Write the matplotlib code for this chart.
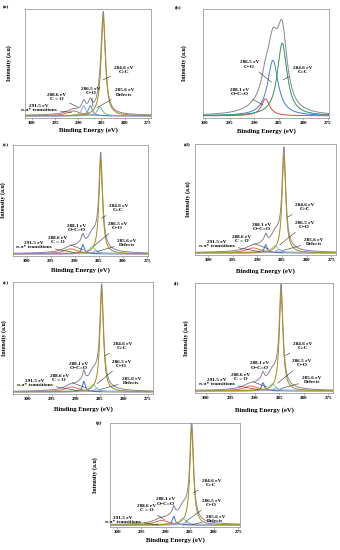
import numpy as np
import matplotlib.pyplot as plt

plt.rcParams['font.family'] = ['Liberation Serif', 'DejaVu Serif']
plt.rcParams['font.weight'] = 'bold'

# ---- data: fitted C1s components for each panel (eV, relative height, FWHM) ----
panel_names = ['(a)', '(b)', '(c)', '(d)', '(e)', '(f)', '(g)']

comp_names = ['C=C', 'Defects', 'C-O', 'O-C=O', 'C=O', 'pi', 'base']

# panel (a)
centers_a = [284.6, 285.3, 287.4, 288.8, 291.0]
heights_a = [0.92, 0.085, 0.095, 0.095, 0.045]
widths_a = [1.1, 1.3, 1.0, 1.1, 3.5]
colors_a = ['#d2a52c', '#63c48f', '#4f86d8', '#8aa6e6', '#e06a5c']

# panel (b)
centers_b = [284.3, 286.2, 287.7]
heights_b = [0.68, 0.52, 0.16]
widths_b = [2.4, 2.6, 2.0]
colors_b = ['#43b06e', '#3f7fe0', '#e2483e']
extra_b = (288.0, 0.08, 6.0)

# panels (c)-(g): same components, different heights
centers_cg = [284.6, 285.6, 286.4, 288.3, 289.0, 290.8, 287.0]
widths_cg = [0.9, 1.2, 1.6, 0.7, 1.5, 3.5, 20.0]
colors_cg = ['#d2a52c', '#9aa8e8', '#86d6a0', '#3d6fd6', '#f0a060', '#e06a6a', '#44c4cc']
heights_c = [0.86, 0.03, 0.065, 0.085, 0.025, 0.045, 0.008]
heights_d = [0.90, 0.03, 0.065, 0.075, 0.025, 0.045, 0.008]
heights_e = [0.91, 0.03, 0.065, 0.095, 0.025, 0.045, 0.008]
heights_f = [0.92, 0.03, 0.065, 0.075, 0.025, 0.045, 0.008]
heights_g = [0.95, 0.03, 0.065, 0.085, 0.025, 0.045, 0.008]
extra_cg = (286.5, 0.08, 4.0)

x_ticks = [300, 295, 290, 285, 280, 275]

# ---- layout (pixels: left, top, right, bottom) ----
W, H = 340, 550
boxes = [(25, 9, 151, 118), (203, 9, 329, 118), (13, 145, 148, 256),
         (195, 144, 336, 255), (13, 282, 153, 394), (195, 283, 333, 393),
         (110, 423, 240, 527)]
xlims = [(301.5, 274.3), (300.4, 274.8), (302.8, 274.8), (302.7, 274.0),
         (303.1, 273.9), (302.2, 274.0), (301.5, 274.6)]
tag_pos = [(3, 5), (175, 5), (3, 143), (184, 142), (3, 281), (174, 281), (96, 421)]
ylab_x = [12, 187, 6, 191, 7, 189, 98]
xlab_y = [127, 128, 267, 268, 406, 407, 537]

ann_a = [('284.6 eV\nC=C', (0.785, 0.44), (0.62, 0.35)),
         ('286.5 eV\nC−O', (0.525, 0.25), (0.54, 0.10)),
         ('285.6 eV\nDefects', (0.79, 0.235), (0.57, 0.095)),
         ('288.6 eV\nC = O', (0.25, 0.195), (0.42, 0.10)),
         ('291.5 eV\nπ-π* transitions', (0.11, 0.09), (0.37, 0.05))]
ann_b = [('286.5 eV\nC−O', (0.37, 0.49), (0.543, 0.33)),
         ('284.6 eV\nC=C', (0.79, 0.44), (0.635, 0.35)),
         ('288.1 eV\nO−C=O', (0.29, 0.24), (0.476, 0.12))]
ann_cg = [('284.6 eV\nC=C', (0.78, 0.43), (0.655, 0.34)),
          ('288.1 eV\nO−C=O', (0.47, 0.25), (0.51, 0.185)),
          ('286.5 eV\nC−O', (0.775, 0.27), (0.60, 0.09)),
          ('288.6 eV\nC = O', (0.33, 0.145), (0.52, 0.055)),
          ('291.5 eV\nπ-π* transitions', (0.155, 0.10), (0.46, 0.03)),
          ('285.6 eV\nDefects', (0.845, 0.117), (0.62, 0.04))]
ann_g = [('284.6 eV\nC=C', (0.78, 0.42), (0.64, 0.33)),
         ('288.1 eV\nO−C=O', (0.43, 0.245), (0.485, 0.17)),
         ('286.5 eV\nC−O', (0.78, 0.23), (0.58, 0.05)),
         ('288.6 eV\nC = O', (0.28, 0.185), (0.42, 0.07)),
         ('291.5 eV\nπ-π* transitions', (0.10, 0.07), (0.37, 0.02)),
         ('285.6 eV\nDefects', (0.81, 0.08), (0.63, 0.02))]


def lorentz(x, c, h, w):
    return h / (1 + (2 * (x - c) / w) ** 2)


fig = plt.figure(figsize=(W / 100, H / 100), dpi=100)


def draw_panel(i, centers, heights, widths, colors, extra, anns, gold_first=True):
    l, t, r, b = boxes[i]
    ax = fig.add_axes([l / W, 1 - b / H, (r - l) / W, (b - t) / H])
    x = np.linspace(273, 304, 1500)
    comps = [lorentz(x, c, h, w) for c, h, w in zip(centers, heights, widths)]
    env = np.sum(comps, axis=0)
    if extra is not None:
        env = env + lorentz(x, *extra)
    ax.plot(x, env, color='#85859a', lw=0.7, zorder=2)
    for k in range(len(comps) - 1, -1, -1):
        ax.plot(x, comps[k], color=colors[k], lw=0.7, zorder=3 if k else 4)
    if gold_first:
        ax.plot(x, comps[0], color='#6d6a2a', lw=0.4, ls=(0, (2, 1.5)), zorder=5)
    else:
        ax.plot(x, comps[0], color='#2e6e44', lw=0.35, ls=(0, (2, 1.5)), zorder=5)

    ax.set_xlim(xlims[i])
    ax.set_ylim(-0.02, 1.0)
    ax.set_yticks([])
    ax.set_xticks(x_ticks)
    ax.tick_params(axis='x', labelsize=3.6, length=1.2, width=0.4, pad=1,
                   direction='out', color='#777777')
    for s in ax.spines.values():
        s.set_color('#8a8a8a')
        s.set_linewidth(0.5)
    ax.set_xlabel('Binding Energy (eV)', fontsize=4.8, fontweight='bold')
    ax.xaxis.set_label_coords(0.5, -(xlab_y[i] - b) / (b - t))
    ax.set_ylabel('Intensity (a.u)', fontsize=4.3, fontweight='bold')
    ax.yaxis.set_label_coords((ylab_x[i] - l) / (r - l), 0.5)

    for txt, pos, tip in anns:
        ax.annotate(txt, xy=tip, xycoords='axes fraction', xytext=pos,
                    textcoords='axes fraction', ha='center', va='center',
                    fontsize=3.8, fontweight='bold', linespacing=1.1, zorder=6,
                    arrowprops=dict(arrowstyle='-', color='#333333', lw=0.4,
                                    shrinkA=0.5, shrinkB=0))

    fig.text(tag_pos[i][0] / W, 1 - tag_pos[i][1] / H, panel_names[i],
             fontsize=3.8, fontweight='bold', ha='left', va='top')


draw_panel(0, centers_a, heights_a, widths_a, colors_a, (286.0, 0.01, 30.0), ann_a)
draw_panel(1, centers_b, heights_b, widths_b, colors_b, extra_b, ann_b, gold_first=False)
for i, hs in zip(range(2, 6), [heights_c, heights_d, heights_e, heights_f]):
    draw_panel(i, centers_cg, hs, widths_cg, colors_cg, extra_cg, ann_cg)
draw_panel(6, centers_cg, heights_g, widths_cg, colors_cg, extra_cg, ann_g)

fig.savefig('out.png', dpi=100)
